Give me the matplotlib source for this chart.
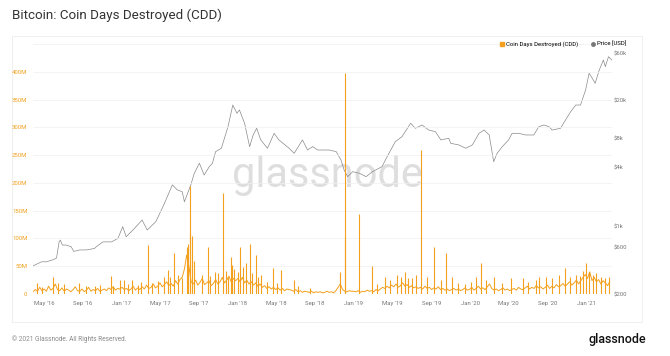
import pandas as pd
import numpy as np
import matplotlib
matplotlib.use("Agg")
import matplotlib.pyplot as plt
import matplotlib.dates as mdates
from matplotlib.patches import Rectangle
from matplotlib.lines import Line2D

plt.rcParams['font.family'] = ['Roboto', 'DejaVu Sans']

# ---- data ----
# weekly CDD baseline in millions, starting 2016-03-28
cdd_start = "2016-03-28"
cdd_weekly = [
    # 2016 (Mar 28 - Dec 26)
    4, 8, 5, 12, 6, 9, 5, 14, 7, 10, 18, 8, 6, 11, 5, 9, 7, 4, 8, 13,
    6, 5, 9, 4, 7, 12, 5, 8, 6, 10, 5, 7, 9, 6, 11, 8, 13, 7, 10, 9,
    # 2017
    12, 8, 10, 6, 9, 14, 7, 11, 8, 13, 9, 16, 10, 12, 18, 11, 14, 20, 13, 17,
    22, 15, 19, 14, 24, 18, 26, 30, 45, 70, 50, 22, 18, 25, 16, 21, 28, 17, 20, 24,
    15, 19, 26, 18, 22, 30, 20, 25, 32, 22, 28, 24,
    # 2018
    28, 22, 30, 20, 25, 18, 22, 16, 20, 14, 18, 12, 15, 10, 13, 9, 12, 8, 11, 7,
    10, 6, 9, 8, 7, 5, 8, 4, 6, 3, 5, 4, 3, 5, 2, 4, 3, 4, 2, 3,
    5, 3, 4, 2, 6, 12, 18, 8, 5, 4, 6, 5,
    # 2019
    5, 4, 6, 3, 5, 4, 7, 5, 6, 4, 8, 6, 9, 12, 10, 14, 11, 16, 13, 18,
    12, 15, 20, 14, 17, 12, 15, 11, 13, 10, 12, 9, 14, 10, 12, 8, 11, 9, 13, 8,
    10, 7, 9, 6, 8, 10, 7, 9, 6, 8, 11, 7,
    # 2020
    8, 12, 7, 10, 14, 9, 11, 8, 13, 18, 10, 7, 9, 6, 8, 11, 7, 9, 6, 8,
    10, 7, 12, 9, 8, 11, 14, 9, 12, 10, 15, 11, 13, 9, 12, 16, 10, 14, 11, 17,
    13, 15, 19, 14, 18, 22, 16, 20, 25, 18, 24, 30,
    # 2021
    35, 28, 40, 24, 30, 22, 26, 18, 24, 20, 15, 22,
]

# single-day CDD spikes (millions)
spike_dates = [
    "2016-04-10", "2016-04-25", "2016-05-29", "2016-06-16", "2016-07-05", "2016-08-21",
    "2016-09-10", "2016-10-08", "2016-10-25", "2016-11-27", "2016-12-05", "2016-12-25",
    "2017-01-08", "2017-01-20", "2017-02-02", "2017-02-20", "2017-03-01", "2017-03-24",
    "2017-04-05", "2017-04-25", "2017-05-13", "2017-05-26", "2017-06-01", "2017-06-14",
    "2017-06-28", "2017-07-10", "2017-07-24", "2017-07-28", "2017-08-02", "2017-08-05",
    "2017-08-10", "2017-08-16", "2017-09-10", "2017-09-28", "2017-10-05", "2017-10-20",
    "2017-11-01", "2017-11-15", "2017-11-25", "2017-12-01", "2017-12-09", "2017-12-14",
    "2017-12-20", "2018-01-02", "2018-01-09", "2018-01-16", "2018-01-25", "2018-02-07",
    "2018-02-14", "2018-02-26", "2018-03-05", "2018-03-15", "2018-04-01", "2018-04-20",
    "2018-05-05", "2018-05-18", "2018-06-25", "2018-07-10", "2018-08-15", "2018-11-18",
    "2018-12-03", "2018-12-05", "2019-01-17", "2019-02-28", "2019-03-15", "2019-04-10",
    "2019-04-25", "2019-05-15", "2019-05-28", "2019-06-10", "2019-06-20", "2019-07-03",
    "2019-07-15", "2019-07-30", "2019-08-20", "2019-09-08", "2019-10-01", "2019-10-16",
    "2019-11-04", "2019-11-25", "2019-12-15", "2020-01-05", "2020-01-20", "2020-02-04",
    "2020-02-20", "2020-03-15", "2020-04-10", "2020-05-10", "2020-06-15", "2020-07-01",
    "2020-07-25", "2020-08-05", "2020-08-25", "2020-09-15", "2020-10-05", "2020-10-24",
    "2020-11-10", "2020-11-28", "2020-12-10", "2020-12-20", "2020-12-30", "2021-01-10",
    "2021-01-20", "2021-02-01", "2021-02-15", "2021-03-01", "2021-03-11",
]
spike_values = [
    19, 12, 31, 20, 18, 20,
    14, 15, 17, 32, 15, 25,
    25, 18, 25, 16, 22, 88,
    20, 24, 31, 43, 30, 73,
    35, 28, 85, 90, 195, 110,
    105, 60, 35, 85, 32, 40,
    38, 181, 42, 30, 67, 52,
    45, 40, 85, 48, 55, 90,
    38, 70, 30, 35, 22, 46,
    20, 43, 25, 15, 10, 40,
    103, 398, 144, 50, 18, 30,
    25, 35, 30, 40, 28, 29,
    35, 259, 30, 85, 25, 74,
    31, 20, 18, 22, 30, 55,
    25, 31, 20, 28, 28, 22,
    25, 30, 30, 28, 35, 46,
    30, 34, 32, 42, 55, 40,
    35, 38, 30, 28, 31,
]

price_dates = [
    "2016-03-28", "2016-04-24", "2016-05-09", "2016-05-29", "2016-06-10", "2016-06-18",
    "2016-06-22", "2016-06-28", "2016-07-10", "2016-07-26", "2016-08-03", "2016-08-22",
    "2016-09-12", "2016-10-07", "2016-10-13", "2016-11-03", "2016-11-30", "2016-12-20",
    "2017-01-04", "2017-01-15", "2017-02-10", "2017-03-06", "2017-03-22", "2017-04-18",
    "2017-05-13", "2017-06-09", "2017-06-25", "2017-07-10", "2017-07-17", "2017-08-06",
    "2017-08-17", "2017-09-02", "2017-09-17", "2017-10-03", "2017-10-13", "2017-10-23",
    "2017-11-10", "2017-12-01", "2017-12-16", "2017-12-29", "2018-01-06", "2018-01-22",
    "2018-02-07", "2018-02-18", "2018-03-01", "2018-03-14", "2018-04-04", "2018-04-25",
    "2018-05-10", "2018-06-11", "2018-06-27", "2018-07-23", "2018-08-08", "2018-08-24",
    "2018-09-09", "2018-10-15", "2018-11-06", "2018-11-21", "2018-12-01", "2018-12-12",
    "2018-12-28", "2019-01-18", "2019-02-08", "2019-02-28", "2019-03-30", "2019-04-15",
    "2019-05-11", "2019-06-01", "2019-06-28", "2019-07-13", "2019-08-03", "2019-08-24",
    "2019-09-14", "2019-10-01", "2019-10-26", "2019-11-01", "2019-11-27", "2019-12-18",
    "2020-01-08", "2020-01-29", "2020-02-14", "2020-03-01", "2020-03-15", "2020-03-26",
    "2020-04-11", "2020-05-01", "2020-05-12", "2020-06-02", "2020-06-23", "2020-07-19",
    "2020-08-04", "2020-08-20", "2020-09-05", "2020-09-15", "2020-10-11", "2020-10-27",
    "2020-11-12", "2020-11-28", "2020-12-13", "2020-12-29", "2021-01-09", "2021-01-19",
    "2021-01-28", "2021-02-10", "2021-02-23", "2021-03-01", "2021-03-11", "2021-03-21",
]
price_values = [
    390, 430, 430, 450, 470, 690,
    720, 640, 640, 615, 550, 570,
    570, 590, 615, 690, 690, 750,
    990, 780, 950, 1160, 915, 1115,
    1660, 2670, 2370, 2270, 1790, 2670,
    3520, 4470, 3380, 4120, 4470, 5890,
    6380, 10660, 17830, 14660, 15850, 11560,
    6630, 8750, 10260, 7780, 6380, 9100,
    7780, 6380, 5660, 7780, 6120, 6630,
    6120, 6120, 5890, 4830, 3810, 3250,
    3660, 3520, 3250, 3660, 4120, 5220,
    7470, 8410, 11560, 10260, 11090, 9840,
    9460, 7780, 8090, 7180, 6900, 6380,
    6900, 9100, 9840, 8750, 4640, 5660,
    6630, 7780, 9100, 9100, 8750, 8750,
    10660, 11090, 10660, 9840, 10260, 12500,
    15220, 17830, 17830, 25470, 37900, 33650,
    29850, 41000, 52000, 44360, 56230, 52000,
]

cdd_x = pd.date_range(cdd_start, periods=len(cdd_weekly), freq="7D")
spike_x = pd.to_datetime(spike_dates)
price_x = pd.to_datetime(price_dates)

orange = "#F2A01E"
grey = "#8a8a8a"

fig = plt.figure(figsize=(6.7, 3.56), dpi=100)
fig.patch.set_facecolor("white")

# card behind the chart
card = Rectangle((12 / 670, 1 - 322 / 356), (642 - 12) / 670, (322 - 36) / 356,
                 transform=fig.transFigure, facecolor="white", edgecolor="#ececec",
                 linewidth=0.6, zorder=-5)
fig.patches.append(card)

fig.text(12 / 670, 1 - 15 / 356, "Bitcoin: Coin Days Destroyed (CDD)", fontsize=9.6,
         color="#333333", va="center", ha="left")
fig.text(12 / 670, 1 - 339 / 356, "© 2021 Glassnode. All Rights Reserved.", fontsize=4.7,
         color="#8a8a8a", va="center", ha="left")
fig.text(646 / 670, 1 - 339 / 356, "glassnode", fontsize=9, color="#111111",
         va="center", ha="right", fontweight="medium")

# watermark
fig.text(327 / 670, 1 - 175 / 356, "glassnode", fontsize=30, color="#dedede",
         ha="center", va="center", zorder=-4)

ax = fig.add_axes([33 / 670, 1 - 294 / 356, (612 - 33) / 670, (294 - 44) / 356])
ax.set_facecolor("none")
ax2 = ax.twinx()
ax2.set_facecolor("none")

ax2.plot(price_x, price_values, color=grey, linewidth=0.5)
ax2.set_yscale("log")
ax2.set_ylim(200, 76000)

ax.set_zorder(2)
ax2.set_zorder(1)
ax.plot(cdd_x, np.array(cdd_weekly) * 1e6, color=orange, linewidth=0.7)
ax.vlines(spike_x, 0, np.array(spike_values) * 1e6, color=orange, linewidth=0.8)
ax.set_ylim(0, 450e6)
ax.set_xlim(pd.Timestamp("2016-03-28"), pd.Timestamp("2021-03-22"))

yt = np.arange(0, 451e6, 50e6)
ax.set_yticks(yt)
ax.set_yticklabels(["0"] + [f"{int(v/1e6)}M" for v in yt[1:-1]] + [""])
ax.grid(axis="y", color="#f0f0f0", linewidth=0.5)
ax.tick_params(axis="y", length=0, labelsize=4.3, labelcolor=orange, pad=4)

ax.xaxis.set_major_locator(mdates.MonthLocator(bymonth=[1, 5, 9]))
ax.xaxis.set_major_formatter(mdates.DateFormatter("%b '%y"))
ax.tick_params(axis="x", length=0, labelsize=4.3, labelcolor="#777777", pad=5)

ax2.set_yticks([200, 600, 1000, 4000, 8000, 20000, 60000])
ax2.set_yticklabels(["$200", "$600", "$1k", "$4k", "$8k", "$20k", "$60k"])
ax2.yaxis.set_minor_locator(matplotlib.ticker.NullLocator())
ax2.tick_params(axis="y", length=0, labelsize=4.3, labelcolor="#777777", pad=1)

for a in (ax, ax2):
    for s in a.spines.values():
        s.set_visible(False)

handles = [Line2D([], [], marker="s", color=orange, linestyle="none", markersize=2.5),
           Line2D([], [], marker="o", color="#777777", linestyle="none", markersize=2.5)]
fig.legend(handles, ["Coin Days Destroyed (CDD)", "Price [USD]"], loc="center right",
           bbox_to_anchor=(632 / 670, 1 - 44 / 356), ncol=2, frameon=False, fontsize=4.3,
           handletextpad=0.3, columnspacing=2.0, handlelength=0.8)

plt.savefig("out.png", dpi=100)
